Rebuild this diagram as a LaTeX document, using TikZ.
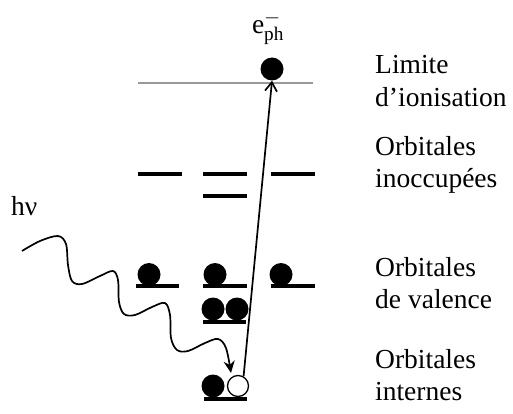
\documentclass[tikz,border=0pt]{standalone}
\usepackage{fontspec}
\setmainfont{Liberation Serif}
\usetikzlibrary{arrows.meta}
\begin{document}
\begin{tikzpicture}[x=1pt,y=-1pt,
  level/.style={line width=3.3pt},
  dot/.style={circle,fill=black,inner sep=0pt,minimum size=23pt},
  hole/.style={circle,draw=black,fill=white,line width=1.3pt,inner sep=0pt,minimum size=21pt},
  lab/.style={anchor=base west,inner sep=0pt,font=\fontsize{27.5}{32}\selectfont}]
\useasboundingbox (0,0) rectangle (513,414);
% ionisation limit
\draw[gray!80,line width=2.4pt] (138,83) -- (313,83);
\node[dot] (ion) at (272,69) {};
\node[anchor=base,inner sep=0pt,font=\fontsize{27.5}{32}\selectfont] (eph) at (268,34) {e$^{-}_{\mathrm{ph}}$};
% unoccupied
\draw[level] (138,174) -- (182,174);
\draw[level] (203,174) -- (247,174);
\draw[level] (203,196) -- (247,196);
\draw[level] (271,174) -- (315,174);
% valence
\draw[level] (136,286) -- (179,286);
\draw[level] (203,286) -- (247,286);
\draw[level] (271,286) -- (315,286);
\node[dot] (v1) at (149,274.5) {};
\node[dot] (v2) at (215,274.5) {};
\node[dot] (v3) at (281,274.5) {};
\draw[level] (203,322) -- (246,322);
\node[dot] (v4) at (213,309) {};
\node[dot] (v5) at (237,309) {};
% core
\draw[level] (204,399) -- (247,399);
\node[dot] (c1) at (213,386) {};
\node[hole] (hole) at (238,386) {};
% excitation arrow
\draw[line width=1.7pt,-{Straight Barb[length=9pt,width=12pt,line width=1.7pt]}] (hole.60) -- (ion.south);
% photon
\node[anchor=base west,inner sep=0pt,font=\fontsize{27.5}{32}\selectfont] (hv) at (11,215) {h\symbol{"03BD}};
\draw[line width=1.7pt,-{Stealth[length=12pt,width=11pt]}] plot[smooth,tension=0.55] coordinates {
 (22,251) (40,241) (58,236) (66,244) (68,265) (72,281) (82,284) (100,276) (113,271)
 (118,280) (119,302) (124,314) (135,315) (152,307) (165,303) (170,315) (171,338)
 (177,350) (188,351) (205,343) (218,339) (226,348) (231,373)};
% labels
\node[lab] (l1) at (375,74) {Limite};
\node[lab] (l2) at (375,107) {d’ionisation};
\node[lab] (l3) at (375,155) {Orbitales};
\node[lab] (l4) at (375,187) {inoccupées};
\node[lab] (l5) at (375,276) {Orbitales};
\node[lab] (l6) at (375,308) {de valence};
\node[lab] (l7) at (375,368) {Orbitales};
\node[lab] (l8) at (375,400) {internes};
\end{tikzpicture}
\end{document}
